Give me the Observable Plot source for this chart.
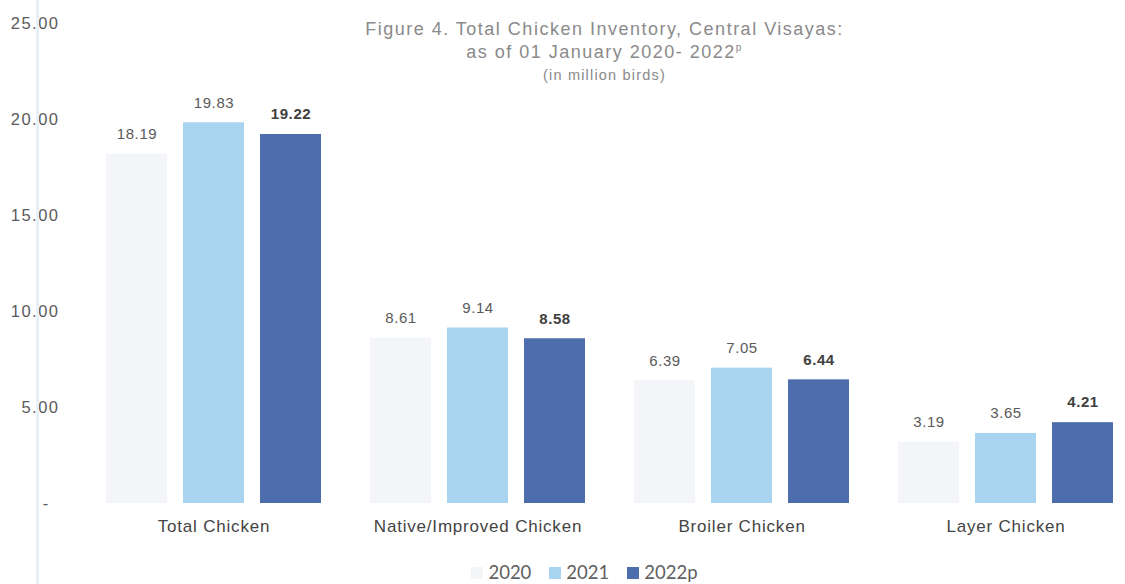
<!DOCTYPE html>
<html>
<head>
<meta charset="utf-8">
<script src="https://cdn.jsdelivr.net/npm/d3@7"></script>
<script src="https://cdn.jsdelivr.net/npm/@observablehq/plot@0.6"></script>
<style>
  html, body { margin: 0; padding: 0; background: #fff; }
  #wrap { position: relative; width: 1125px; height: 584px; overflow: hidden; font-family: "Liberation Sans", Arial, sans-serif; }
  #title { position: absolute; left: 0; width: 1125px; top: 18px; text-align: center; color: #8a8a8a; pointer-events: none; }
  #title div { padding-left: 84px; white-space: nowrap; }
  #title .l1 { font-size: 18px; line-height: 23px; letter-spacing: 1.5px; }
  #title .l2 { font-size: 18px; line-height: 23px; letter-spacing: 1.5px; }
  #title .l3 { font-size: 14.5px; line-height: 23px; letter-spacing: 1.2px; }
  #title sup { font-size: 10px; vertical-align: 7px; line-height: 0; }
  #scanline { position: absolute; left: 36px; top: 0; width: 3px; height: 584px; background: #dcedf3; opacity: 0.7; }
  #legend { position: absolute; top: 562px; left: 0; width: 1125px; height: 21px; display: flex; justify-content: center; gap: 18px; font-family: Lato, "Open Sans", sans-serif; font-size: 18.5px; line-height: 21px; color: #5f5f5f; padding-left: 44px; box-sizing: border-box; }
  #legend .item { display: flex; align-items: center; gap: 5px; }
  #legend .sw { width: 12px; height: 12px; display: inline-block; }
  #chart g[aria-label="y-axis tick label"] text { letter-spacing: 1.5px; }
  #chart g[aria-label="fx-axis tick label"] text { letter-spacing: 0.8px; }
  #chart g[aria-label="text"] text { letter-spacing: 0.6px; }
</style>
</head>
<body>
<div id="wrap">
  <div id="scanline"></div>
  <div id="chart"></div>
  <div id="title">
    <div class="l1">Figure 4. Total Chicken Inventory, Central Visayas:</div>
    <div class="l2">as of 01 January 2020- 2022<sup>p</sup></div>
    <div class="l3">(in million birds)</div>
  </div>
  <div id="legend"></div>
</div>
<script>
const categories = ["Total Chicken", "Native/Improved Chicken", "Broiler Chicken", "Layer Chicken"];
const years = ["2020", "2021", "2022p"];
const values2020 = [18.19, 8.61, 6.39, 3.19];
const values2021 = [19.83, 9.14, 7.05, 3.65];
const values2022p = [19.22, 8.58, 6.44, 4.21];
const yTicks = [0, 5, 10, 15, 20, 25];
const colors = ["#f3f5f8", "#a9d4f0", "#4e6dad"];

const series = [values2020, values2021, values2022p];
const data = [];
categories.forEach((c, i) => {
  years.forEach((y, j) => data.push({category: c, year: y, value: series[j][i]}));
});

const chart = Plot.plot({
  width: 1125,
  height: 545,
  marginLeft: 94,
  marginRight: 0,
  marginTop: 23,
  marginBottom: 42,
  style: {fontFamily: "Liberation Sans, Arial, sans-serif", background: "transparent", overflow: "visible"},
  fx: {domain: categories, paddingInner: 0.186, paddingOuter: 0.0435, label: null},
  x: {domain: years, paddingInner: 0.208, paddingOuter: 0, axis: null},
  y: {domain: [0, 25], label: null},
  color: {domain: years, range: colors},
  marks: [
    Plot.axisFx({anchor: "bottom", tickSize: 0, tickPadding: 16, fontSize: 17, fill: "#444", label: null}),
    Plot.axisY({ticks: yTicks, tickSize: 0, tickPadding: 47, fontSize: 16.5, fill: "#5a5a5a", label: null,
      tickFormat: d => d === 0 ? "-\u2002" : d3.format(".2f")(d)}),
    Plot.barY(data, {fx: "category", x: "year", y: "value", fill: "year"}),
    Plot.text(data.filter(d => d.year !== "2022p"), {fx: "category", x: "year", y: "value", text: d => d3.format(".2f")(d.value), dy: -20, fontSize: 15, fill: "#5a5a5a"}),
    Plot.text(data.filter(d => d.year === "2022p"), {fx: "category", x: "year", y: "value", text: d => d3.format(".2f")(d.value), dy: -20, fontSize: 15, fontWeight: "bold", fill: "#404040"})
  ]
});
document.getElementById("chart").appendChild(chart);

const legend = document.getElementById("legend");
years.forEach((y, j) => {
  const item = document.createElement("div");
  item.className = "item";
  const sw = document.createElement("span");
  sw.className = "sw";
  sw.style.background = colors[j];
  const t = document.createElement("span");
  t.textContent = y;
  item.appendChild(sw);
  item.appendChild(t);
  legend.appendChild(item);
});
</script>
</body>
</html>
